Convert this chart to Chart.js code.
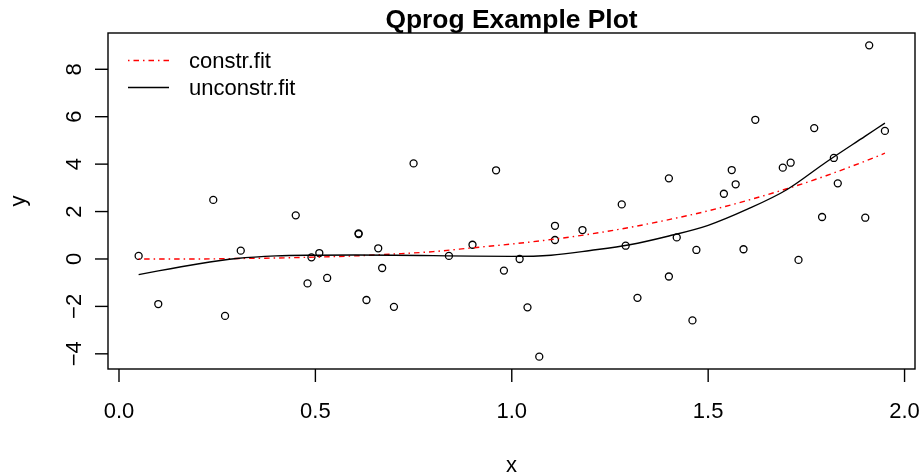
<!DOCTYPE html>
<html>
<head>
<meta charset="utf-8">
<script src="https://cdn.jsdelivr.net/npm/chart.js@4/dist/chart.umd.min.js"></script>
<style>
  html, body { margin: 0; padding: 0; background: #fff; }
  #wrap { width: 921px; height: 476px; }
</style>
</head>
<body>
<div id="wrap"><canvas id="plot" width="921" height="476"></canvas></div>
<script>
// observed points
const ptX = [0.05, 0.10, 0.24, 0.27, 0.31, 0.45, 0.48, 0.49, 0.51, 0.53, 0.61, 0.61, 0.63, 0.66, 0.67, 0.70, 0.75,
  0.84, 0.90, 0.96, 0.98, 1.02, 1.04, 1.07, 1.11, 1.11, 1.18, 1.28, 1.29, 1.32,
  1.40, 1.40, 1.42, 1.46, 1.47, 1.54, 1.56, 1.57, 1.59, 1.62, 1.69, 1.71, 1.73, 1.77, 1.79, 1.82, 1.83, 1.90, 1.91, 1.95];
const ptY = [0.13, -1.90, 2.49, -2.40, 0.35, 1.84, -1.03, 0.07, 0.25, -0.80, 1.08, 1.05, -1.73, 0.45, -0.38, -2.02, 4.03,
  0.13, 0.60, 3.74, -0.49, 0.00, -2.04, -4.12, 1.40, 0.80, 1.22, 2.30, 0.56, -1.64,
  3.40, -0.74, 0.91, -2.59, 0.38, 2.75, 3.75, 3.15, 0.41, 5.87, 3.85, 4.06, -0.04, 5.52, 1.77, 4.26, 3.19, 1.74, 9.01, 5.40];

// constrained fit (red dot-dash)
const conX = [0.05, 0.2, 0.3, 0.4, 0.5, 0.6, 0.7, 0.8, 0.9, 1.0, 1.1, 1.2, 1.3, 1.4, 1.5, 1.6, 1.7, 1.8, 1.9, 1.95];
const conY = [0.0, 0.0, 0.02, 0.04, 0.08, 0.13, 0.21, 0.31, 0.47, 0.63, 0.82, 1.05, 1.33, 1.66, 2.03, 2.47, 2.96, 3.51, 4.13, 4.46];

// unconstrained fit (black)
const uncX = [0.05, 0.1, 0.2, 0.3, 0.4, 0.5, 0.6, 0.7, 0.8, 0.9, 1.0, 1.1, 1.2, 1.3, 1.4, 1.5, 1.6, 1.7, 1.8, 1.9, 1.95];
const uncY = [-0.66, -0.50, -0.21, 0.02, 0.13, 0.16, 0.17, 0.16, 0.14, 0.12, 0.11, 0.16, 0.36, 0.60, 0.97, 1.42, 2.10, 2.92, 4.08, 5.18, 5.73];

const xTicks = [0.0, 0.5, 1.0, 1.5, 2.0];
const xTickLabels = ['0.0', '0.5', '1.0', '1.5', '2.0'];
const yTicks = [-4, -2, 0, 2, 4, 6, 8];
const yTickLabels = ['\u22124', '\u22122', '0', '2', '4', '6', '8'];

const FONT = '"Liberation Sans", Arial, Helvetica, sans-serif';
const RED_DASH = [1.5, 4, 5.5, 4];

function pairs(xs, ys) {
  return xs.map((x, i) => ({ x: x, y: ys[i] }));
}

// R-style frame, axes, labels and legend
const rFrame = {
  id: 'rFrame',
  afterDraw(chart) {
    const ctx = chart.ctx;
    const a = chart.chartArea;
    const sx = chart.scales.x;
    const sy = chart.scales.y;
    ctx.save();
    ctx.strokeStyle = '#000';
    ctx.fillStyle = '#000';
    ctx.lineWidth = 1.4;

    // box
    ctx.strokeRect(a.left, a.top, a.right - a.left, a.bottom - a.top);

    // x ticks
    ctx.font = '22px ' + FONT;
    ctx.textAlign = 'center';
    ctx.textBaseline = 'alphabetic';
    xTicks.forEach((v, i) => {
      const px = sx.getPixelForValue(v);
      ctx.beginPath();
      ctx.moveTo(px, a.bottom);
      ctx.lineTo(px, a.bottom + 13);
      ctx.stroke();
      ctx.fillText(xTickLabels[i], px, 418);
    });

    // y ticks, labels rotated like R
    yTicks.forEach((v, i) => {
      const py = sy.getPixelForValue(v);
      ctx.beginPath();
      ctx.moveTo(a.left, py);
      ctx.lineTo(a.left - 13, py);
      ctx.stroke();
      ctx.save();
      ctx.translate(81, py);
      ctx.rotate(-Math.PI / 2);
      ctx.fillText(yTickLabels[i], 0, 0);
      ctx.restore();
    });

    // axis titles
    const cx = (a.left + a.right) / 2;
    const cy = (a.top + a.bottom) / 2;
    ctx.fillText('x', cx, 472);
    ctx.save();
    ctx.translate(25, cy);
    ctx.rotate(-Math.PI / 2);
    ctx.fillText('y', 0, 0);
    ctx.restore();

    // main title
    ctx.font = 'bold 26.4px ' + FONT;
    ctx.fillText('Qprog Example Plot', cx, 28);

    // legend (no box)
    ctx.font = '22px ' + FONT;
    ctx.textAlign = 'left';
    ctx.strokeStyle = '#ff0000';
    ctx.setLineDash(RED_DASH);
    ctx.beginPath();
    ctx.moveTo(128, 60.5);
    ctx.lineTo(169, 60.5);
    ctx.stroke();
    ctx.setLineDash([]);
    ctx.strokeStyle = '#000';
    ctx.beginPath();
    ctx.moveTo(128, 87.5);
    ctx.lineTo(169, 87.5);
    ctx.stroke();
    ctx.fillText('constr.fit', 189, 68);
    ctx.fillText('unconstr.fit', 189, 94.5);

    ctx.restore();
  }
};

new Chart(document.getElementById('plot'), {
  type: 'scatter',
  data: {
    datasets: [
      {
        label: 'points',
        data: pairs(ptX, ptY),
        pointStyle: 'circle',
        pointRadius: 3.5,
        pointBorderWidth: 1.3,
        pointBorderColor: '#000',
        pointBackgroundColor: 'rgba(0,0,0,0)',
        showLine: false,
        order: 3
      },
      {
        label: 'constr.fit',
        data: pairs(conX, conY),
        showLine: true,
        borderColor: '#ff0000',
        borderWidth: 1.4,
        borderDash: RED_DASH,
        pointRadius: 0,
        cubicInterpolationMode: 'monotone',
        fill: false,
        order: 2
      },
      {
        label: 'unconstr.fit',
        data: pairs(uncX, uncY),
        showLine: true,
        borderColor: '#000',
        borderWidth: 1.4,
        pointRadius: 0,
        cubicInterpolationMode: 'monotone',
        fill: false,
        order: 1
      }
    ]
  },
  options: {
    responsive: false,
    animation: false,
    devicePixelRatio: 1,
    layout: { padding: { left: 108, right: 6, top: 33, bottom: 107 } },
    plugins: {
      legend: { display: false },
      title: { display: false },
      tooltip: { enabled: false }
    },
    scales: {
      x: { type: 'linear', min: -0.028, max: 2.0266, display: false },
      y: { type: 'linear', min: -4.64, max: 9.53, display: false }
    }
  },
  plugins: [rFrame]
});
</script>
</body>
</html>
